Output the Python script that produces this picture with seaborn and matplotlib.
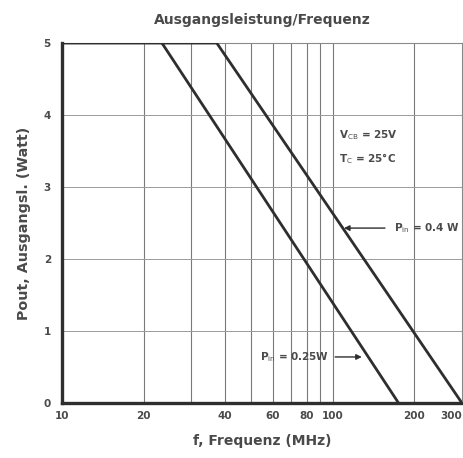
"""Ausgangsleistung/Frequenz: output power vs frequency (log x)."""
import matplotlib
matplotlib.use("Agg")
import matplotlib.pyplot as plt
import pandas as pd
import seaborn as sns

# ============================================================
# Data
# ============================================================
freq_04 = [10, 37.3, 300]      # MHz, P_in = 0.4 W
pout_04 = [5, 5, 0]            # W
freq_025 = [23.4, 175]         # MHz, P_in = 0.25 W
pout_025 = [5, 0]              # W

major_ticks = [10, 20, 40, 60, 80, 100, 200, 300]
grid_x = [20, 30, 40, 50, 60, 70, 80, 90, 100, 200]
y_ticks = [0, 1, 2, 3, 4, 5]

df = pd.concat([
    pd.DataFrame({"f": freq_04, "p": pout_04, "curve": "0.4 W"}),
    pd.DataFrame({"f": freq_025, "p": pout_025, "curve": "0.25 W"}),
])

# ============================================================
# Style
# ============================================================
sns.set_style("white")
plt.rcParams["font.family"] = ["DejaVu Sans"]
TXT = "#4a4a4a"
INK = "#2e2e2e"
GRID = "#8a8a8a"

fig = plt.figure(figsize=(4.64, 4.58), dpi=100)
ax = fig.add_axes([0.1336, 0.120, 0.862, 0.786])

# grid lines
for x in grid_x:
    ax.axvline(x, color="#7a7a7a", lw=0.8, zorder=1)
for y in [1, 2, 3, 4]:
    ax.axhline(y, color="#9a9a9a", lw=0.7, zorder=1)

sns.lineplot(data=df, x="f", y="p", units="curve", estimator=None,
             color=INK, lw=2.0, ax=ax, zorder=3, sort=False)

ax.set_xscale("log")
ax.set_xlim(10, 300)
ax.set_ylim(0, 5)
ax.set_xticks(major_ticks)
ax.set_xticklabels([str(t) for t in major_ticks])
ax.minorticks_off()
ax.set_yticks(y_ticks)
ax.tick_params(axis="x", length=0, labelsize=7.5, labelcolor=TXT, pad=6)
ax.tick_params(axis="y", length=0, labelsize=7.5, labelcolor=TXT, pad=8)
for lab in ax.get_xticklabels() + ax.get_yticklabels():
    lab.set_fontweight("bold")
# last label sits at the figure edge; right-align it so it stays visible
ax.get_xticklabels()[-1].set_horizontalalignment("right")

for side in ["left", "bottom"]:
    ax.spines[side].set_linewidth(2.4)
    ax.spines[side].set_color(INK)
for side in ["top", "right"]:
    ax.spines[side].set_linewidth(0.8)
    ax.spines[side].set_color(GRID)

ax.set_xlabel("f, Frequenz (MHz)", fontsize=10, fontweight="bold",
              color=TXT, labelpad=9)
ax.set_ylabel("Pout, Ausgangsl. (Watt)", fontsize=10.3, fontweight="bold",
              color=TXT, labelpad=9)
ax.set_title("Ausgangsleistung/Frequenz", fontsize=10, fontweight="bold",
             color=TXT, pad=14)

# annotations
ax.text(105, 3.72, r"V$_{\mathrm{CB}}$ = 25V", fontsize=7.5, fontweight="bold",
        color=TXT, va="center")
ax.text(105, 3.39, r"T$_{\mathrm{C}}$ = 25°C", fontsize=7.5, fontweight="bold",
        color=TXT, va="center")

ax.annotate(r"P$_{\mathrm{in}}$ = 0.4 W", xy=(110, 2.43), xytext=(168, 2.43),
            fontsize=7.5, fontweight="bold", color=TXT, va="center",
            arrowprops=dict(arrowstyle="-|>", color=INK, lw=1.0,
                            mutation_scale=8, shrinkA=4, shrinkB=0))
ax.annotate(r"P$_{\mathrm{in}}$ = 0.25W", xy=(128, 0.64), xytext=(54, 0.64),
            fontsize=7.5, fontweight="bold", color=TXT, va="center",
            arrowprops=dict(arrowstyle="-|>", color=INK, lw=1.0,
                            mutation_scale=8, shrinkA=2, shrinkB=0))

fig.savefig("out.png", dpi=100)
